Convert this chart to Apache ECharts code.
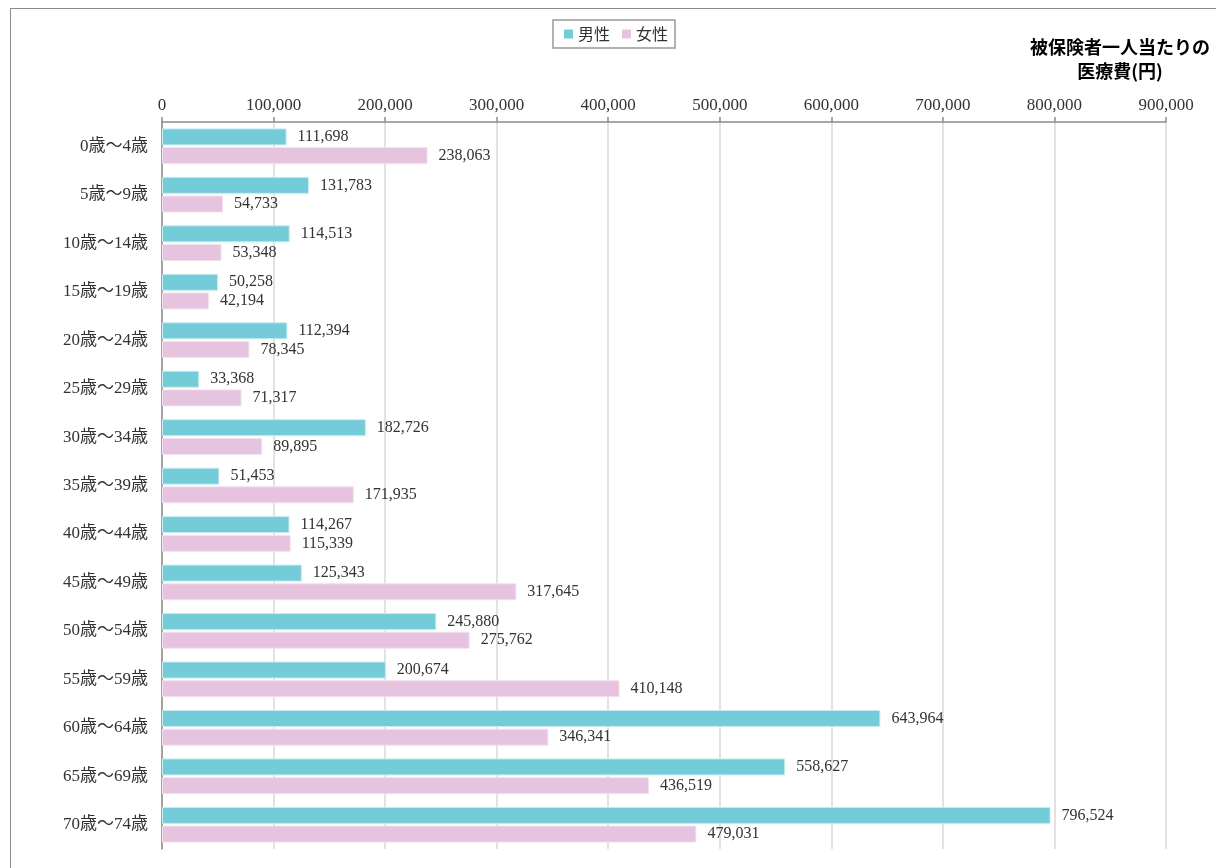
<!DOCTYPE html>
<html>
<head>
<meta charset="utf-8">
<script src="https://cdn.jsdelivr.net/npm/echarts@6/dist/echarts.min.js"></script>
<style>
  html, body { margin: 0; padding: 0; background: #fff; overflow: hidden; }
  #frame { position: absolute; left: 10px; top: 8px; width: 1300px; height: 1000px; border: 1px solid #8c8c8c; box-sizing: border-box; }
  #chart { position: absolute; left: 0; top: 0; width: 1216px; height: 868px; }
</style>
</head>
<body>
<div id="frame"></div>
<div id="chart"></div>
<script>
// 年齢階級別 被保険者一人当たりの医療費
const ageGroups = ['0歳～4歳', '5歳～9歳', '10歳～14歳', '15歳～19歳', '20歳～24歳', '25歳～29歳', '30歳～34歳',
  '35歳～39歳', '40歳～44歳', '45歳～49歳', '50歳～54歳', '55歳～59歳', '60歳～64歳', '65歳～69歳', '70歳～74歳']
const maleData = [111698, 131783, 114513, 50258, 112394, 33368, 182726, 51453, 114267, 125343, 245880, 200674, 643964, 558627, 796524]
const femaleData = [238063, 54733, 53348, 42194, 78345, 71317, 89895, 171935, 115339, 317645, 275762, 410148, 346341, 436519, 479031]
const seriesNames = ['男性', '女性']
const titleText = '被保険者一人当たりの\n医療費(円)'

const serif = "'Liberation Serif', 'Noto Sans CJK JP', serif"
const gothic = "'Noto Sans CJK JP', sans-serif"
const fmt = v => Number(v).toLocaleString('en-US')

const myChart = echarts.init(document.getElementById('chart'))
const options = {
  animation: false,
  graphic: [
    {
      type: 'text',
      x: 1120,
      y: 35,
      style: {
        text: titleText,
        align: 'center',
        verticalAlign: 'top',
        fontFamily: gothic,
        fontWeight: 'bold',
        fontSize: 18,
        lineHeight: 24,
        fill: '#000'
      }
    }
  ],
  legend: {
    left: 553,
    top: 20,
    padding: [6, 7, 6, 11],
    borderColor: '#999',
    borderWidth: 1.5,
    icon: 'rect',
    itemWidth: 9,
    itemHeight: 9,
    itemGap: 12,
    itemStyle: {
      borderWidth: 0
    },
    textStyle: {
      fontFamily: gothic,
      fontSize: 16,
      color: '#333'
    },
    data: seriesNames
  },
  grid: {
    left: 162,
    top: 122,
    width: 1004,
    height: 727,
    containLabel: false
  },
  xAxis: {
    type: 'value',
    position: 'top',
    min: 0,
    max: 900000,
    interval: 100000,
    axisLine: {
      show: true,
      lineStyle: { color: '#8c8c8c', width: 1.5 }
    },
    axisTick: {
      show: true,
      length: 5,
      lineStyle: { color: '#8c8c8c', width: 1.5 }
    },
    axisLabel: {
      formatter: fmt,
      fontFamily: serif,
      fontSize: 17,
      color: '#333',
      margin: 8
    },
    splitLine: {
      lineStyle: { color: '#d9d9d9', width: 1.5 }
    }
  },
  yAxis: {
    type: 'category',
    inverse: true,
    data: ageGroups,
    axisLine: {
      lineStyle: { color: '#8c8c8c', width: 1.5 }
    },
    axisTick: {
      length: 5,
      lineStyle: { color: '#8c8c8c', width: 1.5 }
    },
    axisLabel: {
      fontFamily: serif,
      fontSize: 17,
      color: '#333',
      margin: 14
    }
  },
  series: [
    {
      name: seriesNames[0],
      type: 'bar',
      data: maleData,
      barWidth: 17,
      barGap: '10%',
      itemStyle: {
        color: '#74ccd8',
        borderColor: '#c9ecf0',
        borderWidth: 1
      },
      label: {
        show: true,
        position: 'right',
        distance: 11,
        formatter: p => fmt(p.value),
        fontFamily: serif,
        fontSize: 16,
        color: '#333'
      }
    },
    {
      name: seriesNames[1],
      type: 'bar',
      data: femaleData,
      barWidth: 17,
      barGap: '10%',
      itemStyle: {
        color: '#e6c3de',
        borderColor: '#f3e2ef',
        borderWidth: 1
      },
      label: {
        show: true,
        position: 'right',
        distance: 11,
        formatter: p => fmt(p.value),
        fontFamily: serif,
        fontSize: 16,
        color: '#333'
      }
    }
  ]
}
myChart.setOption(options)
window.addEventListener('resize', function() {
  myChart.resize()
})
</script>
</body>
</html>
